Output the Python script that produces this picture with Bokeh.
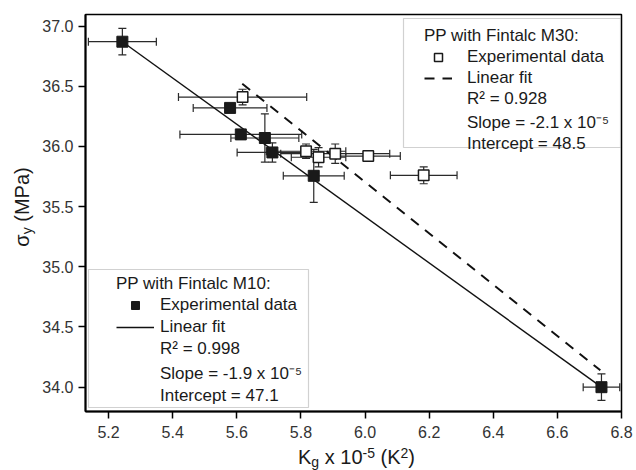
from bokeh.plotting import figure
from bokeh.layouts import row, column
from bokeh.models import (ColumnDataSource, Whisker, TeeHead, FixedTicker, Div,
                          BoxAnnotation, Legend, LegendItem, Range1d, NumeralTickFormatter)
from bokeh.embed import file_html
from bokeh.resources import INLINE

# ---- data ----
m10_x = [5.243, 5.579, 5.6125, 5.6875, 5.711, 5.840, 6.7375]
m10_y = [36.87, 36.32, 36.10, 36.07, 35.95, 35.756, 34.00]
m10_xerr = [0.106, 0.115, 0.190, 0.106, 0.110, 0.095, 0.057]
m10_yerr = [0.110, 0.030, 0.020, 0.200, 0.080, 0.220, 0.110]

m30_x = [5.618, 5.816, 5.855, 5.907, 6.010, 6.183]
m30_y = [36.41, 35.96, 35.91, 35.94, 35.92, 35.76]
m30_xerr = [0.200, 0.124, 0.085, 0.170, 0.100, 0.104]
m30_yerr = [0.065, 0.060, 0.080, 0.080, 0.030, 0.070]

m10_fit_x = [5.243, 6.7375]
m10_fit_y = [36.87, 34.00]
m30_fit_x = [5.617, 6.734]
m30_fit_y = [36.52, 34.14]

x_ticks = [5.2, 5.4, 5.6, 5.8, 6.0, 6.2, 6.4, 6.6, 6.8]
y_ticks = [34.0, 34.5, 35.0, 35.5, 36.0, 36.5, 37.0]

m10_legend = ["Experimental data", "Linear fit", "R\u00b2 = 0.998",
              "Slope = -1.9 x 10\u207b\u2075", "Intercept = 47.1"]
m30_legend = ["Experimental data", "Linear fit", "R\u00b2 = 0.928",
              "Slope = -2.1 x 10\u207b\u2075", "Intercept = 48.5"]

FONT = "Liberation Sans"
TXT = "#1a1a1a"
YLAB_W = 36      # width of the strip holding the y-axis title
XLAB_H = 26      # height of the strip holding the x-axis title
W, H = 636, 470


def src(xs, ys, xe, ye):
    return ColumnDataSource(dict(
        x=xs, y=ys,
        xl=[a - b for a, b in zip(xs, xe)], xu=[a + b for a, b in zip(xs, xe)],
        yl=[a - b for a, b in zip(ys, ye)], yu=[a + b for a, b in zip(ys, ye)],
    ))


p = figure(width=W - YLAB_W, height=H - XLAB_H, output_backend="svg", toolbar_location=None,
           x_range=Range1d(5.128, 6.8), y_range=Range1d(33.798, 37.096),
           min_border_left=85 - YLAB_W, min_border_right=15,
           min_border_top=14, min_border_bottom=H - XLAB_H - 411)
p.grid.visible = False
p.outline_line_color = "black"
p.outline_line_width = 1.5
p.background_fill_color = "white"
p.border_fill_color = "white"

for ax in (p.xaxis[0], p.yaxis[0]):
    ax.axis_line_width = 2
    ax.axis_line_color = "black"
    ax.major_tick_in = 0
    ax.major_tick_out = 7
    ax.major_tick_line_width = 1.5
    ax.major_tick_line_color = "black"
    ax.minor_tick_line_color = None
    ax.major_label_text_font = FONT
    ax.major_label_text_font_size = "16px"
    ax.major_label_text_color = "#333333"
    ax.formatter = NumeralTickFormatter(format="0.0")
p.xaxis.ticker = FixedTicker(ticks=x_ticks)
p.yaxis.ticker = FixedTicker(ticks=y_ticks)
p.xaxis.major_label_standoff = 7
p.yaxis.major_label_standoff = 5

s10 = src(m10_x, m10_y, m10_xerr, m10_yerr)
s30 = src(m30_x, m30_y, m30_xerr, m30_yerr)

for s in (s10, s30):
    for dim, base, lo, up in (("height", "x", "yl", "yu"), ("width", "y", "xl", "xu")):
        w = Whisker(source=s, base=base, lower=lo, upper=up, dimension=dim,
                    line_color="#2a2a2a", line_width=1.2, level="underlay",
                    upper_head=TeeHead(size=8, line_color="#2a2a2a", line_width=1.2),
                    lower_head=TeeHead(size=8, line_color="#2a2a2a", line_width=1.2))
        p.add_layout(w)

l10 = p.line(m10_fit_x, m10_fit_y, line_color="#111111", line_width=1.4)
l30 = p.line(m30_fit_x, m30_fit_y, line_color="#111111", line_width=2, line_dash="10 8")

r10 = p.scatter("x", "y", source=s10, marker="square", size=11,
                fill_color="#1a1a1a", line_color="#1a1a1a")
r30 = p.scatter("x", "y", source=s30, marker="square", size=10.5,
                fill_color="white", line_color="#1a1a1a", line_width=1.5)


def frame_box(l, t, r, b):
    p.add_layout(BoxAnnotation(left=l - YLAB_W, right=r - YLAB_W, top=t, bottom=b,
                               left_units="canvas", right_units="canvas",
                               top_units="canvas", bottom_units="canvas",
                               fill_color="white", fill_alpha=1,
                               line_color="#666666", line_width=1.2))


frame_box(88, 269, 308, 407)
frame_box(403, 18, 620, 147)


def dummy():
    return p.line([], [], line_alpha=0)


def make_legend(title, labels, rs, loc, glyph_w, standoff, spacing):
    items = [LegendItem(label=lab, renderers=[r]) for lab, r in zip(labels, rs)]
    leg = Legend(items=items, title=title, location=loc,
                 border_line_alpha=0, background_fill_alpha=0,
                 padding=4, margin=0, spacing=spacing,
                 label_height=20, glyph_height=20, glyph_width=glyph_w,
                 label_standoff=standoff, title_standoff=1,
                 label_text_font=FONT, label_text_font_size="17px", label_text_color=TXT,
                 title_text_font=FONT, title_text_font_size="17px",
                 title_text_font_style="normal", title_text_color=TXT)
    p.add_layout(leg)


make_legend("PP with Fintalc M10:", m10_legend,
            [r10, l10, dummy(), dummy(), dummy()], (27, 1.5), 38, 6, 2)
make_legend("PP with Fintalc M30:", m30_legend,
            [r30, l30, dummy(), dummy(), dummy()], (335, 253.5), 28, 15, 1)

# ---- axis titles (real text, with sub/superscripts) ----
base_css = f"font-family:'{FONT}';color:{TXT};font-size:20px;line-height:20px;white-space:nowrap;"
sub_css = "font-size:14px;line-height:0;vertical-align:-3px;"
sup_css = "font-size:14px;line-height:0;vertical-align:6px;"

xlab_html = (
    f'<div style="position:relative;width:{W - YLAB_W}px;height:{XLAB_H}px;">'
    f'<span style="position:absolute;left:{298 - YLAB_W}px;top:3px;{base_css}">'
    f'K<span style="{sub_css}">g</span> x 10<span style="{sup_css}">-5</span>'
    f' (K<span style="{sup_css}">2</span>)</span></div>'
)
ylab_html = (
    f'<div style="position:relative;width:{YLAB_W}px;height:{H}px;">'
    f'<span style="position:absolute;left:22px;top:207px;'
    f'transform:translate(-50%,-50%) rotate(-90deg);{base_css}">'
    f'\u03c3<span style="{sub_css}">y</span> (MPa)</span></div>'
)

xlab = Div(text=xlab_html, width=W - YLAB_W, height=XLAB_H, margin=0)
ylab = Div(text=ylab_html, width=YLAB_W, height=H, margin=0)

layout = row(ylab, column(p, xlab))
open("out.html", "w").write(file_html(layout, INLINE))
